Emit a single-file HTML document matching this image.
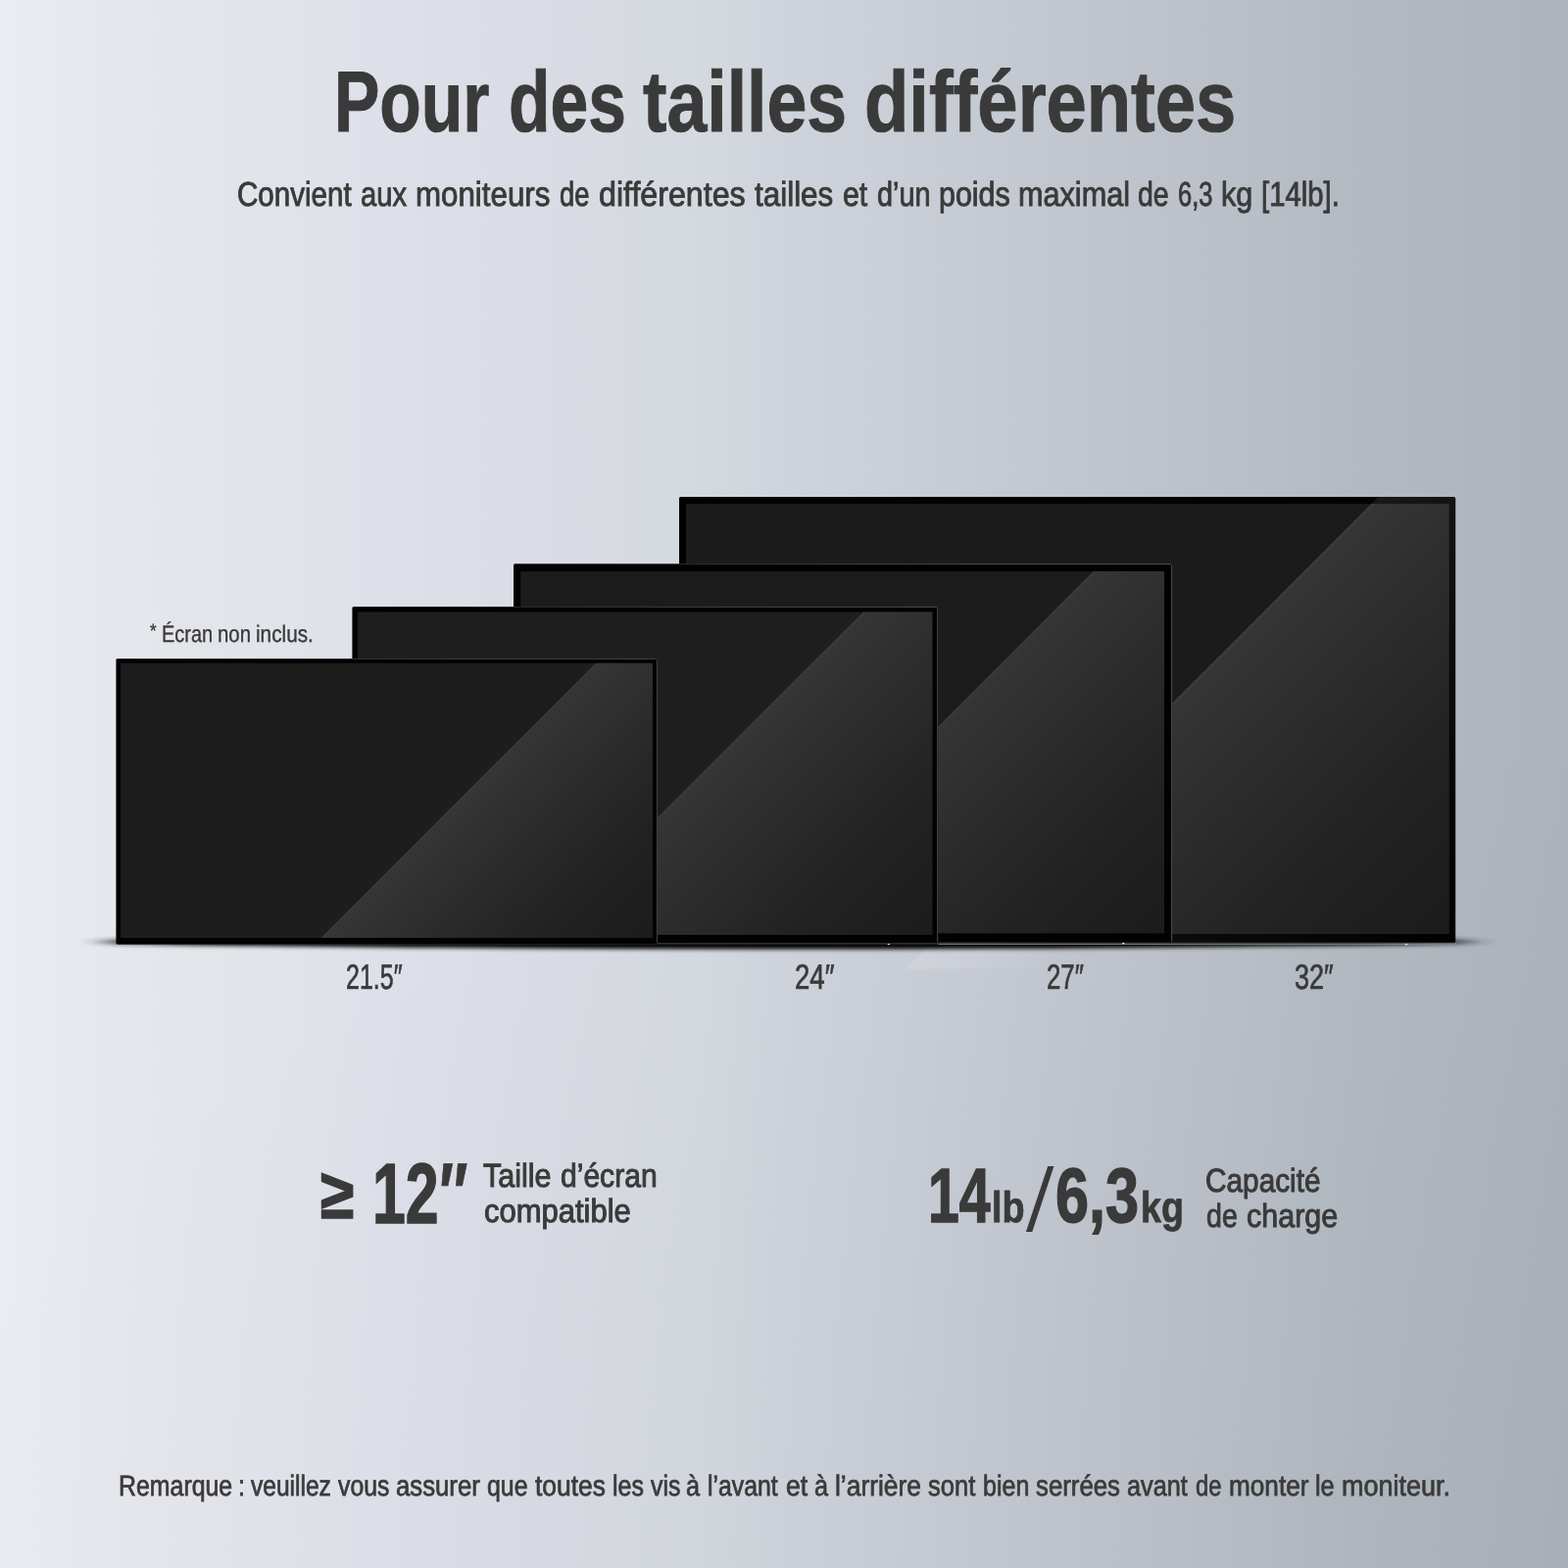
<!DOCTYPE html>
<html lang="fr">
<head>
<meta charset="utf-8">
<meta name="viewport" content="width=1600, initial-scale=1">
<title>Pour des tailles différentes</title>
<style>
*{box-sizing:border-box}
html,body{margin:0;padding:0}
body{width:1600px;height:1600px;overflow:hidden;position:relative;background:#d3d7de;
  font-family:"Liberation Sans",sans-serif;color:#3a3a3a}
.page{position:absolute;left:0;top:0;width:1600px;height:1600px;overflow:hidden;
  background:radial-gradient(110% 55% at 100% 100%,rgba(60,64,72,.04) 0,rgba(60,64,72,.025) 45%,rgba(60,64,72,0) 100%),linear-gradient(90deg,#ebecf1 0,#e7e8ed 6.25%,#e3e5ea 12.5%,#e0e3ea 18.75%,#dde0e8 25%,#dadde5 32%,#d4d8df 45%,#cfd3db 50%,#cbcfd7 56%,#c6cad3 62.5%,#c2c6cf 68%,#bdc2ca 75%,#b8bec6 81%,#b3b9c1 87.5%,#b0b6be 94%,#adb3bb 100%)}
.stage,.stats,.stat,.big{position:absolute;left:0;top:0;width:0;height:0;margin:0;font-weight:inherit}
.art{position:absolute;left:0;top:0;width:1600px;height:1600px;display:block}
.ln{position:absolute;left:0;margin:0;padding:0;width:1600px;height:0;line-height:1;font-weight:400;white-space:nowrap}
.ln,.big{text-rendering:geometricPrecision}
.ln span,.big b,.big i{position:absolute;top:0;display:block;white-space:nowrap;line-height:1;transform-origin:0 0}
.big b,.big i{font-weight:700}
#title{top:60px;font-size:87.94px;font-weight:700;-webkit-text-stroke:1px #3a3a3a}
#sub{top:182px;font-size:34.89px;-webkit-text-stroke:0.9px #3a3a3a}
#ecran{top:636px;font-size:24.06px;-webkit-text-stroke:0.35px #3a3a3a}
#l215{top:980px;font-size:35.8px;-webkit-text-stroke:0.7px #3a3a3a}
#l24{top:980px;font-size:35.8px;-webkit-text-stroke:0.7px #3a3a3a}
#l27{top:980px;font-size:35.8px;-webkit-text-stroke:0.7px #3a3a3a}
#l32{top:980px;font-size:35.8px;-webkit-text-stroke:0.7px #3a3a3a}
#note{top:1502px;font-size:29.43px;-webkit-text-stroke:0.75px #3a3a3a}
#ge{left:327.3px;top:1184px;font-size:71.95px;transform:scaleX(0.866);-webkit-text-stroke:1.6px #3a3a3a}
#n12{left:380.29px;top:1175px;font-size:87.21px;transform:scaleX(0.6971);-webkit-text-stroke:1.5px #3a3a3a}
#dq{left:444.98px;top:1174px;font-size:88px;transform:scaleX(0.6921);font-style:italic;-webkit-text-stroke:0.8px #3a3a3a}
#s1a{top:1184px;font-size:33.65px;-webkit-text-stroke:1px #3a3a3a}
#s1b{top:1220px;font-size:33.65px;-webkit-text-stroke:1px #3a3a3a}
#n14{left:947.1px;top:1181px;font-size:78.64px;transform:scaleX(0.7268);-webkit-text-stroke:1.5px #3a3a3a}
#ulb{left:1012.1px;top:1211px;font-size:44.3px;transform:scaleX(0.8537);-webkit-text-stroke:0.8px #3a3a3a}
#sl{left:1054.11px;top:1181px;font-size:90.96px;font-weight:400;transform:skewX(-5.279deg) scaleX(0.8835)}
#n63{left:1077.44px;top:1181px;font-size:78.64px;transform:scaleX(0.7784);-webkit-text-stroke:1.5px #3a3a3a}
#ukg{left:1164.32px;top:1211px;font-size:44.3px;transform:scaleX(0.8484);-webkit-text-stroke:0.8px #3a3a3a}
#s2a{top:1189px;font-size:33.62px;-webkit-text-stroke:1px #3a3a3a}
#s2b{top:1225px;font-size:33.62px;-webkit-text-stroke:1px #3a3a3a}
</style>
</head>
<body>
<main class="page">
  <h1 id="title" class="ln"><span style="left:341.04px;transform:scaleX(0.7906)">Pour</span> <span style="left:518.79px;transform:scaleX(0.7914)">des</span> <span style="left:655.77px;transform:scaleX(0.8346)">tailles</span> <span style="left:881.88px;transform:scaleX(0.8438)">différentes</span></h1>
  <p id="sub" class="ln"><span style="left:241.88px;transform:scaleX(0.8476)">Convient</span> <span style="left:367.89px;transform:scaleX(0.8365)">aux</span> <span style="left:423.83px;transform:scaleX(0.897)">moniteurs</span> <span style="left:571.2px;transform:scaleX(0.7836)">de</span> <span style="left:611.06px;transform:scaleX(0.9224)">différentes</span> <span style="left:769.93px;transform:scaleX(0.9003)">tailles</span> <span style="left:859.61px;transform:scaleX(0.867)">et</span> <span style="left:894.91px;transform:scaleX(0.8277)">d’un</span> <span style="left:957.93px;transform:scaleX(0.8726)">poids</span> <span style="left:1038.86px;transform:scaleX(0.8781)">maximal</span> <span style="left:1161.17px;transform:scaleX(0.8177)">de</span> <span style="left:1201.53px;transform:scaleX(0.7322)">6,3</span> <span style="left:1246.34px;transform:scaleX(0.8749)">kg</span> <span style="left:1287.04px;transform:scaleX(0.8403)">[14lb].</span></p>

  <section class="stage">
    <svg class="art" width="1600" height="1600" viewBox="0 0 1600 1600" role="img" aria-label="Moniteurs de 21.5, 24, 27 et 32 pouces">
<defs><linearGradient id="gl" x1="0" y1="0" x2="1" y2="0"><stop offset="0" stop-color="#fff" stop-opacity="0.16"/><stop offset="0.45" stop-color="#fff" stop-opacity="0.09"/><stop offset="1" stop-color="#fff" stop-opacity="0"/></linearGradient><linearGradient id="fsh" gradientUnits="userSpaceOnUse" x1="78" y1="0" x2="1533" y2="0"><stop offset="0" stop-color="#2a2c30" stop-opacity="0"/><stop offset="0.028" stop-color="#2a2c30" stop-opacity="0.8"/><stop offset="0.09" stop-color="#030304" stop-opacity="1"/><stop offset="0.91" stop-color="#030304" stop-opacity="1"/><stop offset="0.967" stop-color="#2a2c30" stop-opacity="0.85"/><stop offset="1" stop-color="#2a2c30" stop-opacity="0"/></linearGradient><filter id="bl" x="-2%" y="-120%" width="104%" height="340%"><feGaussianBlur stdDeviation="1.9"/></filter></defs>
<g id="floor">
<polygon points="948,966 1080,966 1080,988.6 924,988.6" fill="url(#gl)"/>
<path d="M76 961.3 L119 958.4 H1485 L1535 961.1 L1485 963.4 Q805.5 973.4 119 963.4 Z" fill="url(#fsh)" filter="url(#bl)"/>
</g>
<defs><linearGradient id="gm32" gradientUnits="userSpaceOnUse" x1="1219.5" y1="694" x2="1478.6" y2="953"><stop offset="0" stop-color="#3b3b3b"/><stop offset="0.012" stop-color="#353535"/><stop offset="0.2" stop-color="#2f2f2f"/><stop offset="0.4" stop-color="#292929"/><stop offset="0.6" stop-color="#232323"/><stop offset="0.8" stop-color="#1f1f1f"/><stop offset="1" stop-color="#1c1c1c"/></linearGradient><linearGradient id="bm32" gradientUnits="userSpaceOnUse" x1="1219.5" y1="694" x2="1478.6" y2="953"><stop offset="0" stop-color="#fff" stop-opacity="0.085"/><stop offset="0.5" stop-color="#fff" stop-opacity="0.034"/><stop offset="1" stop-color="#fff" stop-opacity="0"/></linearGradient><linearGradient id="gm27" gradientUnits="userSpaceOnUse" x1="967.3" y1="731.5" x2="1188" y2="952.2"><stop offset="0" stop-color="#3b3b3b"/><stop offset="0.012" stop-color="#353535"/><stop offset="0.2" stop-color="#2f2f2f"/><stop offset="0.4" stop-color="#292929"/><stop offset="0.6" stop-color="#232323"/><stop offset="0.8" stop-color="#1f1f1f"/><stop offset="1" stop-color="#1c1c1c"/></linearGradient><linearGradient id="rm27" gradientUnits="userSpaceOnUse" x1="524" y1="575.2" x2="1196.2" y2="743.2"><stop offset="0" stop-color="#56565a" stop-opacity="0.25"/><stop offset="0.6" stop-color="#56565a" stop-opacity="0.9"/><stop offset="1" stop-color="#56565a" stop-opacity="1"/></linearGradient><linearGradient id="gm24" gradientUnits="userSpaceOnUse" x1="751.4" y1="754" x2="951.3" y2="953.9"><stop offset="0" stop-color="#3b3b3b"/><stop offset="0.012" stop-color="#353535"/><stop offset="0.2" stop-color="#2f2f2f"/><stop offset="0.4" stop-color="#292929"/><stop offset="0.6" stop-color="#232323"/><stop offset="0.8" stop-color="#1f1f1f"/><stop offset="1" stop-color="#1c1c1c"/></linearGradient><linearGradient id="rm24" gradientUnits="userSpaceOnUse" x1="359.4" y1="618.9" x2="957.2" y2="768.4"><stop offset="0" stop-color="#4c4c50" stop-opacity="0.25"/><stop offset="0.6" stop-color="#4c4c50" stop-opacity="0.9"/><stop offset="1" stop-color="#4c4c50" stop-opacity="1"/></linearGradient><linearGradient id="gm215" gradientUnits="userSpaceOnUse" x1="496.7" y1="787.8" x2="665.9" y2="957"><stop offset="0" stop-color="#3b3b3b"/><stop offset="0.012" stop-color="#353535"/><stop offset="0.2" stop-color="#2f2f2f"/><stop offset="0.4" stop-color="#292929"/><stop offset="0.6" stop-color="#232323"/><stop offset="0.8" stop-color="#1f1f1f"/><stop offset="1" stop-color="#1c1c1c"/></linearGradient><linearGradient id="rm215" gradientUnits="userSpaceOnUse" x1="118.4" y1="671.9" x2="670.9" y2="810"><stop offset="0" stop-color="#444448" stop-opacity="0.25"/><stop offset="0.6" stop-color="#444448" stop-opacity="0.9"/><stop offset="1" stop-color="#444448" stop-opacity="1"/></linearGradient></defs>
<g id="m32"><rect x="693" y="507" width="792.2" height="455.2" rx="1.6" fill="#020203"/><polygon points="1406.5,507 1485.2,507 1485.2,962.2 951.3,962.2" fill="url(#bm32)"/><rect x="700" y="514.1" width="778.6" height="438.9" fill="#1b1b1b"/><polygon points="1399.4,514.1 1478.6,514.1 1478.6,953 960.5,953" fill="url(#gm32)"/></g>
<g id="m27"><rect x="524" y="575.2" width="672.2" height="386.4" rx="1.6" fill="#020203"/><path d="M526 575.7H1194.2Q1195.7 575.7 1195.7 577.2V960.6" fill="none" stroke="url(#rm27)" stroke-width="1"/><rect x="531.2" y="583.1" width="656.8" height="369.1" fill="#1c1c1c"/><polygon points="1115.6,583.1 1188,583.1 1188,952.2 746.5,952.2" fill="url(#gm27)"/></g>
<g id="m24"><rect x="359.4" y="618.9" width="597.8" height="343.5" rx="1.6" fill="#020203"/><path d="M361.4 619.4H955.2Q956.7 619.4 956.7 620.9V961.4" fill="none" stroke="url(#rm24)" stroke-width="1"/><rect x="365" y="624.4" width="586.3" height="329.5" fill="#1e1e1e"/><polygon points="880.9,624.4 951.3,624.4 951.3,953.9 551.4,953.9" fill="url(#gm24)"/></g>
<g id="m215"><rect x="118.4" y="671.9" width="552.5" height="291.6" rx="1.6" fill="#020203"/><path d="M120.4 672.4H668.9Q670.4 672.4 670.4 673.9V962.5" fill="none" stroke="url(#rm215)" stroke-width="1"/><rect x="123.1" y="676.7" width="542.8" height="280.3" fill="#1d1d1d"/><polygon points="607.9,676.7 665.9,676.7 665.9,957 327.6,957" fill="url(#gm215)"/></g>
<defs><linearGradient id="fl" x1="0" y1="0" x2="0" y2="1"><stop offset="0" stop-color="#8a8a8c" stop-opacity="0"/><stop offset="0.55" stop-color="#8a8a8c" stop-opacity="0.35"/><stop offset="0.86" stop-color="#8a8a8c" stop-opacity="0.85"/><stop offset="1" stop-color="#8a8a8c" stop-opacity="0.1"/></linearGradient></defs><g id="floorline"><rect x="119.5" y="963" width="551" height="0.8" fill="#26262a"/><rect x="670.9" y="962.3" width="286.3" height="1.2" fill="#404044"/><rect x="957.2" y="960.8" width="528" height="3.2" fill="url(#fl)"/><g fill="#ededed"><rect x="905.6" y="963" width="2.4" height="1.1" rx="0.5"/><rect x="1145.1" y="962.1" width="2.3" height="1.1" rx="0.5"/><rect x="1433.9" y="963.1" width="2.4" height="1.1" rx="0.5"/></g></g>
    </svg>
    <p id="ecran" class="ln"><span style="left:152.98px;top:-1px;font-size:19.23px;transform:scaleX(0.8722)">*</span> <span style="left:165.01px;transform:scaleX(0.8298)">Écran</span> <span style="left:221.89px;transform:scaleX(0.8479)">non</span> <span style="left:260.66px;transform:scaleX(0.8628)">inclus.</span></p>
    <div id="l215" class="ln"><span style="left:352.99px;transform:scaleX(0.6986)">21.5″</span></div>
    <div id="l24" class="ln"><span style="left:810.78px;transform:scaleX(0.7707)">24″</span></div>
    <div id="l27" class="ln"><span style="left:1067.95px;transform:scaleX(0.7214)">27″</span></div>
    <div id="l32" class="ln"><span style="left:1321.13px;transform:scaleX(0.7563)">32″</span></div>
  </section>

  <section class="stats">
    <div class="stat" id="st1">
      <strong class="big"><b id="ge">≥</b> <b id="n12">12</b><i id="dq">″</i></strong>
      <span id="s1a" class="ln"><span style="left:493.27px;transform:scaleX(0.9068)">Taille</span> <span style="left:572.28px;transform:scaleX(0.8936)">d’écran</span></span>
      <span id="s1b" class="ln"><span style="left:493.54px;transform:scaleX(0.921)">compatible</span></span>
    </div>
    <div class="stat" id="st2">
      <strong class="big"><b id="n14">14</b><b id="ulb">lb</b><b id="sl">/</b><b id="n63">6,3</b><b id="ukg">kg</b></strong>
      <span id="s2a" class="ln"><span style="left:1230.33px;transform:scaleX(0.886)">Capacité</span></span>
      <span id="s2b" class="ln"><span style="left:1230.83px;transform:scaleX(0.8496)">de</span> <span style="left:1271.56px;transform:scaleX(0.9072)">charge</span></span>
    </div>
  </section>

  <p id="note" class="ln"><span style="left:120.77px;transform:scaleX(0.846)">Remarque</span> <span style="left:242.74px;transform:scaleX(0.8585)">:</span> <span style="left:256.48px;transform:scaleX(0.8347)">veuillez</span> <span style="left:345.23px;transform:scaleX(0.842)">vous</span> <span style="left:404.23px;transform:scaleX(0.8749)">assurer</span> <span style="left:497.27px;transform:scaleX(0.8454)">que</span> <span style="left:546.19px;transform:scaleX(0.8971)">toutes</span> <span style="left:624.88px;transform:scaleX(0.8492)">les</span> <span style="left:663.98px;transform:scaleX(0.8437)">vis</span> <span style="left:700.31px;transform:scaleX(0.8585)">à</span> <span style="left:721.89px;transform:scaleX(0.843)">l’avant</span> <span style="left:802.21px;transform:scaleX(0.9022)">et</span> <span style="left:830.56px;transform:scaleX(0.8585)">à</span> <span style="left:851.56px;transform:scaleX(0.8971)">l’arrière</span> <span style="left:946.61px;transform:scaleX(0.8672)">sont</span> <span style="left:1003.2px;transform:scaleX(0.8509)">bien</span> <span style="left:1057.11px;transform:scaleX(0.8762)">serrées</span> <span style="left:1150.15px;transform:scaleX(0.8585)">avant</span> <span style="left:1220.3px;transform:scaleX(0.8079)">de</span> <span style="left:1253.59px;transform:scaleX(0.8897)">monter</span> <span style="left:1342.37px;transform:scaleX(0.8592)">le</span> <span style="left:1368.55px;transform:scaleX(0.9174)">moniteur.</span></p>
</main>
</body>
</html>
